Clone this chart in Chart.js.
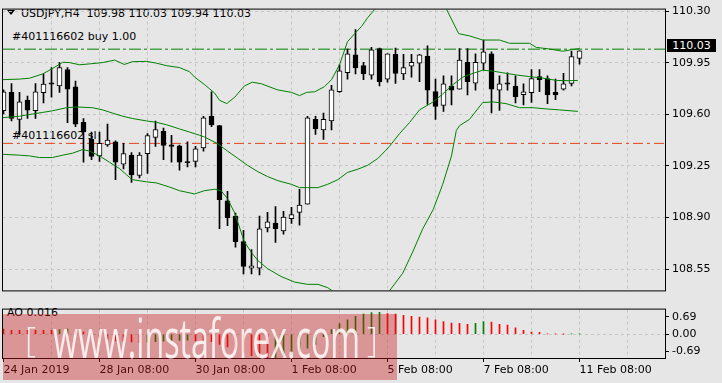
<!DOCTYPE html>
<html>
<head>
<meta charset="utf-8">
<script src="https://cdn.jsdelivr.net/npm/chart.js@4.4.0/dist/chart.umd.min.js"></script>
<style>
  html, body { margin: 0; padding: 0; background: #e6e6e6; }
  #wrap { position: relative; width: 722px; height: 383px; overflow: hidden;
          font-family: "DejaVu Sans", sans-serif; font-size: 11px; }
  .txt { position: absolute; white-space: pre; color: #000; z-index: 0; line-height: 13px; }
  canvas { position: absolute; left: 0; z-index: 1; }
  #main { top: 0; }
  #ao { top: 300px; }
  #tri { position: absolute; left: 7px; top: 10px; width: 0; height: 0;
         border-left: 4px solid transparent; border-right: 4px solid transparent;
         border-top: 5px solid #000; }
  #tag { position: absolute; left: 667px; top: 39px; width: 49px; height: 13px; background: #000;
         color: #fff; z-index: 2; text-align: center; line-height: 13px; }
  #wm { position: absolute; left: 3px; top: 314px; width: 394px; height: 66px;
        background: rgba(200, 30, 30, 0.4); z-index: 3; overflow: hidden;
        font-family: "Open Sans", sans-serif; color: rgba(255, 255, 255, 0.82); }
  #wm span { position: absolute; white-space: pre; }
  #wmL, #wmR { font-size: 34px; line-height: 34px; top: 8px; font-weight: 300; }
  #wmL { left: 22px; }
  #wmR { left: 364px; }
  #wmT { left: 50px; top: -4px; font-size: 54px; line-height: 54px; font-weight: 400; transform-origin: 0 0; }
</style>
</head>
<body>
<div id="wrap">
  <div id="tri"></div>
  <div class="txt" style="left:21px; top:7px;">USDJPY,H4  109.98 110.03 109.94 110.03</div>
  <div class="txt" style="left:12px; top:30px;">#401116602 buy 1.00</div>
  <div class="txt" style="left:12px; top:129px;">#401116602 sl</div>
  <div class="txt" style="left:7px; top:306px;">AO 0.016</div>
  <canvas id="main" width="722" height="300"></canvas>
  <canvas id="ao" width="722" height="83"></canvas>
  <div id="tag">110.03</div>
  <div id="wm"><span id="wmL">[</span><span id="wmT">www.instaforex.com</span><span id="wmR">]</span></div>
</div>
<script>
// USDJPY H4 candles, bar 0 = 24 Jan 08:00, bar 72 = 11 Feb 08:00
const opens = [109.624,109.749,109.566,109.697,109.624,109.747,109.813,109.792,109.904,109.787,
  109.546,109.430,109.318,109.392,109.413,109.262,109.323,109.185,109.333,109.443,
  109.484,109.394,109.387,109.280,109.281,109.372,109.587,109.523,109.013,108.910,
  108.737,108.557,108.557,108.830,108.862,108.809,108.892,108.935,108.991,109.566,
  109.495,109.555,109.753,109.882,110.003,109.930,109.865,110.046,109.839,110.007,
  109.874,109.927,109.947,109.994,109.755,109.660,109.792,109.770,109.953,109.811,
  109.947,110.011,109.764,109.813,109.792,109.734,109.747,109.856,109.843,109.749,
  109.770,109.809,109.980];
const highs = [109.766,109.809,109.749,109.723,109.809,109.874,109.917,109.951,109.917,109.826,
  109.572,109.480,109.480,109.534,109.420,109.404,109.340,109.340,109.470,109.555,
  109.506,109.458,109.392,109.413,109.383,109.587,109.753,109.525,109.077,108.931,
  108.813,108.683,108.910,108.935,108.974,108.942,108.970,109.092,109.587,109.587,
  109.609,109.796,109.936,110.043,110.175,109.953,110.054,110.050,110.011,110.050,
  110.007,110.007,110.007,110.065,109.839,109.861,109.861,110.046,110.046,110.011,
  110.104,110.024,109.861,109.882,109.861,109.807,109.904,109.904,109.861,109.839,
  109.878,110.028,110.030];
const lows = [109.602,109.555,109.458,109.572,109.572,109.678,109.716,109.749,109.544,109.516,
  109.275,109.293,109.280,109.383,109.157,109.230,109.138,109.168,109.200,109.383,
  109.293,109.275,109.222,109.243,109.243,109.351,109.516,108.824,108.845,108.699,
  108.518,108.518,108.511,108.802,108.731,108.787,108.860,108.849,108.990,109.463,
  109.430,109.495,109.749,109.839,109.874,109.835,109.839,109.792,109.818,109.809,
  109.835,109.852,109.822,109.667,109.566,109.620,109.663,109.770,109.731,109.764,
  109.899,109.609,109.626,109.764,109.678,109.663,109.680,109.753,109.673,109.699,
  109.764,109.792,109.940];
const closes = [109.753,109.572,109.684,109.628,109.753,109.805,109.805,109.917,109.770,109.534,
  109.480,109.314,109.404,109.426,109.275,109.333,109.189,109.323,109.456,109.497,
  109.389,109.383,109.275,109.273,109.366,109.577,109.529,109.021,108.899,108.737,
  108.569,108.572,108.824,108.871,108.824,108.903,108.920,108.985,109.577,109.501,
  109.566,109.766,109.895,110.011,109.914,109.874,110.037,109.822,110.011,109.878,
  109.917,109.953,110.003,109.764,109.654,109.807,109.764,109.968,109.822,109.953,
  110.024,109.770,109.807,109.805,109.719,109.753,109.843,109.835,109.731,109.731,
  109.807,109.992,110.030];

// Bollinger bands: [bar position, price]
const bbUpper = [[-0.2,109.835],[2,109.839],[3.25,109.845],[4.9,109.874],[6.1,109.910],[7.4,109.953],
  [8.25,109.951],[9.5,109.936],[10.75,109.942],[12.4,109.951],[13.9,109.968],[15.1,109.938],
  [16.1,109.957],[17.9,109.959],[19.1,109.947],[20.4,109.930],[22,109.917],[23.25,109.889],
  [23.9,109.852],[25.1,109.803],[26.4,109.744],[27,109.695],[27.9,109.673],[28.9,109.716],
  [30.1,109.792],[31.1,109.818],[32.25,109.807],[34.25,109.766],[36,109.749],[37,109.727],
  [37.9,109.749],[38.9,109.753],[40.1,109.787],[41,109.835],[42,109.936],[43,110.093],
  [43.9,110.147],[44.75,110.196],[45.5,110.254],[46.4,110.312],[47.5,110.40],[50,110.45],
  [53,110.43],[54.5,110.37],[55.4,110.31],[56.9,110.147],[58.25,110.132],[59.9,110.104],
  [62,110.104],[63.25,110.082],[65.75,110.082],[66.6,110.054],[68.25,110.043],[69.9,110.028],
  [71.6,110.043],[72,110.046]];
const bbMiddle = [[-0.2,109.577],[2,109.587],[3.6,109.602],[4.9,109.613],[6.1,109.624],[7.9,109.645],
  [9.1,109.650],[11.1,109.645],[12.4,109.630],[13.6,109.609],[14.9,109.587],[16.1,109.572],
  [17.9,109.555],[19.1,109.546],[20.4,109.529],[22,109.501],[23.25,109.480],[24.5,109.458],
  [25.1,109.447],[26.8,109.400],[28,109.351],[29.3,109.301],[30.5,109.254],[31.8,109.211],
  [33,109.178],[34.3,109.150],[36,109.125],[37,109.103],[38,109.103],[39.3,109.103],
  [40.5,109.125],[41.8,109.157],[43,109.206],[44.3,109.228],[45.5,109.254],[46.8,109.301],
  [47.8,109.357],[48.25,109.383],[49.5,109.469],[50.75,109.544],[52,109.630],[53.7,109.684],
  [54.9,109.738],[56.2,109.802],[57.4,109.852],[58.7,109.878],[59.9,109.899],[61.2,109.893],
  [62.4,109.882],[64.1,109.867],[65.75,109.856],[67.4,109.846],[69.1,109.830],[70.75,109.828],
  [71.8,109.830]];
const bbLower = [[-0.2,109.329],[2,109.323],[3.25,109.318],[4.5,109.307],[6.1,109.307],[7.4,109.323],
  [8.6,109.336],[9.9,109.361],[10.75,109.351],[12,109.318],[13.25,109.275],[14.5,109.232],
  [15.4,109.189],[16.1,109.157],[17.9,109.142],[19.1,109.135],[20.75,109.107],[22,109.082],
  [23.9,109.060],[25.1,109.082],[26.4,109.092],[27.2,109.082],[28,109.028],[28.9,108.931],
  [30.1,108.737],[31,108.662],[31.8,108.608],[33,108.554],[34.7,108.500],[36.4,108.462],
  [38,108.447],[39.3,108.447],[40.5,108.425],[41.4,108.393],[43,108.33],[45,108.28],
  [47,108.33],[48.1,108.393],[49.9,108.522],[51.2,108.673],[52.4,108.823],[53.7,108.953],
  [54.9,109.125],[56,109.318],[56.6,109.490],[57,109.523],[58.25,109.566],[59.9,109.680],
  [61.2,109.684],[62.8,109.673],[64.5,109.645],[66.2,109.645],[67.8,109.637],[69.5,109.630],
  [71.8,109.620]];

// Awesome Oscillator per bar
const ao = [0.20,0.15,0.15,0.15,0.15,0.15,0.15,0.18,0.20,0.18,
  0.08,0.03,-0.15,-0.20,-0.27,-0.28,-0.31,-0.34,-0.32,-0.30,
  -0.28,-0.26,-0.25,-0.24,-0.26,-0.27,-0.30,-0.40,-0.50,-0.60,
  -0.72,-0.85,-0.90,-0.93,-0.92,-0.88,-0.80,-0.70,-0.55,-0.40,
  -0.10,0.18,0.42,0.57,0.71,0.80,0.86,0.87,0.82,0.80,
  0.75,0.71,0.68,0.65,0.57,0.50,0.44,0.43,0.39,0.43,
  0.50,0.48,0.39,0.36,0.25,0.15,0.08,0.07,0.01,0.01,
  0.005,0.01,0.016];

const buyLevel = 110.042;
const slLevel = 109.403;
const priceTicks = [108.55, 108.90, 109.25, 109.60, 109.95, 110.30];
const aoTicks = [-0.69, 0, 0.69];
const gridBars = [6,12,18,24,30,36,42,48,54,60,66,72,78];
const xLabels = ['24 Jan 2019','28 Jan 08:00','30 Jan 08:00','1 Feb 08:00','5 Feb 08:00','7 Feb 08:00','11 Feb 08:00'];
const xLabelBars = [0,12,24,36,48,60,72];

Chart.defaults.font.family = '"DejaVu Sans", sans-serif';
Chart.defaults.font.size = 11;
Chart.defaults.color = '#000';

const X_MIN = -0.0625, X_MAX = 82.6875;
const GRID = '#c6c6c6';

const frame = {
  id: 'frame',
  afterDraw(chart) {
    const a = chart.chartArea, ctx = chart.ctx;
    ctx.save();
    ctx.strokeStyle = '#000';
    ctx.lineWidth = 1;
    ctx.strokeRect(a.left - 0.5, a.top - 0.5, a.right - a.left + 1, a.bottom - a.top + 1);
    ctx.restore();
  }
};

const toXY = arr => arr.map(p => ({x: p[0], y: p[1]}));
const level = v => [{x: X_MIN, y: v}, {x: X_MAX, y: v}];

new Chart(document.getElementById('main'), {
  type: 'bar',
  data: {
    datasets: [
      { type: 'line', data: toXY(bbUpper), borderColor: '#008000', borderWidth: 1, pointRadius: 0, order: 0 },
      { type: 'line', data: toXY(bbMiddle), borderColor: '#008000', borderWidth: 1, pointRadius: 0, order: 0 },
      { type: 'line', data: toXY(bbLower), borderColor: '#008000', borderWidth: 1, pointRadius: 0, order: 0 },
      { data: opens.map((o, i) => ({x: i, y: [Math.min(o, closes[i]), Math.max(o, closes[i])]})),
        backgroundColor: opens.map((o, i) => closes[i] >= o ? '#fff' : '#000'),
        borderColor: '#000', borderWidth: 1, borderSkipped: false, barThickness: 5, grouped: false, order: 1 },
      { data: highs.map((h, i) => ({x: i, y: [lows[i], h]})),
        backgroundColor: '#000', barThickness: 1, grouped: false, order: 2 },
      { type: 'line', data: level(buyLevel), borderColor: '#008000', borderWidth: 1,
        borderDash: [12, 3, 3, 3], pointRadius: 0, order: 3 },
      { type: 'line', data: level(slLevel), borderColor: '#e4461c', borderWidth: 1,
        borderDash: [10, 4, 3, 4], pointRadius: 0, order: 3 }
    ]
  },
  options: {
    responsive: false, animation: false,
    layout: { padding: { left: 3, top: 3, right: 0, bottom: 2 } },
    plugins: { legend: { display: false }, tooltip: { enabled: false } },
    scales: {
      x: {
        type: 'linear', min: X_MIN, max: X_MAX, offset: false,
        grid: { color: GRID, offset: false, drawTicks: false },
        border: { display: false, dash: [3, 3] },
        ticks: { display: false },
        afterBuildTicks(s) { s.ticks = gridBars.map(v => ({value: v})); },
        afterFit(s) { s.height = 0; }
      },
      y: {
        position: 'right', min: 108.4059, max: 110.3103,
        grid: { color: GRID, tickColor: '#000', tickLength: 4 },
        border: { display: false, dash: [3, 3] },
        ticks: { padding: 3, callback: v => v.toFixed(2) },
        afterBuildTicks(s) { s.ticks = priceTicks.map(v => ({value: v})); },
        afterFit(s) { s.width = 57; }
      }
    }
  },
  plugins: [frame]
});

new Chart(document.getElementById('ao'), {
  type: 'bar',
  data: {
    datasets: [{
      data: ao.map((v, i) => ({x: i, y: v})),
      backgroundColor: ao.map((v, i) => i > 0 && v > ao[i - 1] ? '#008000' : '#ff0000'),
      barThickness: 1, grouped: false
    }]
  },
  options: {
    responsive: false, animation: false,
    layout: { padding: { left: 3, top: 1, right: 0, bottom: 0 } },
    plugins: { legend: { display: false }, tooltip: { enabled: false } },
    scales: {
      x: {
        type: 'linear', min: X_MIN, max: X_MAX, offset: false,
        grid: { offset: false, tickLength: 4,
                color: c => c.tick && c.tick.value === 0 ? 'transparent' : GRID,
                tickColor: c => c.tick && xLabelBars.includes(c.tick.value) ? '#000' : 'transparent' },
        border: { display: false, dash: [3, 3] },
        ticks: { align: 'start', padding: 2, maxRotation: 0, autoSkip: false,
                 callback: v => { const k = xLabelBars.indexOf(v); return k >= 0 ? xLabels[k] : ''; } },
        afterBuildTicks(s) { s.ticks = [0].concat(gridBars).map(v => ({value: v})); },
        afterFit(s) { s.height = 25; }
      },
      y: {
        position: 'right', min: -0.943, max: 0.976,
        grid: { tickColor: '#000', tickLength: 4,
                color: c => c.tick && c.tick.value === 0 ? GRID : 'transparent' },
        border: { display: false, dash: [3, 3] },
        ticks: { padding: 3, callback: v => v.toFixed(2) },
        afterBuildTicks(s) { s.ticks = aoTicks.map(v => ({value: v})); },
        afterFit(s) { s.width = 57; }
      }
    }
  },
  plugins: [frame]
});

// squeeze the watermark text into its box
const wmT = document.getElementById('wmT');
const w = wmT.getBoundingClientRect().width;
wmT.style.transform = 'scaleX(' + (307 / w).toFixed(3) + ')';
</script>
</body>
</html>
